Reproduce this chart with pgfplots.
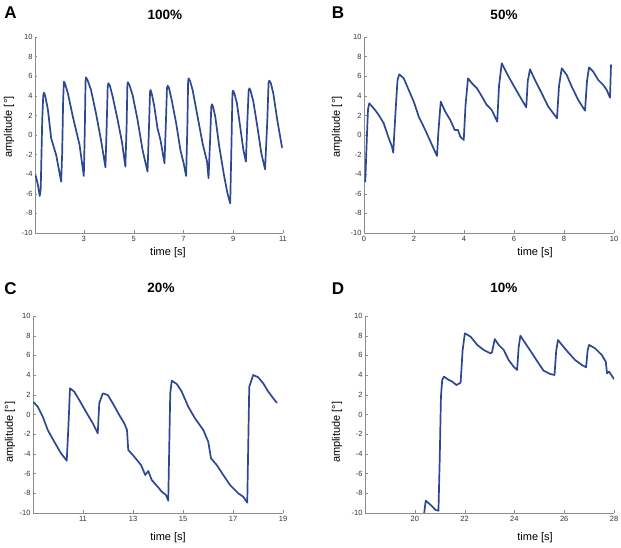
\documentclass[border=0pt]{standalone}
\usepackage{pgfplots}
\pgfplotsset{compat=1.18}
\usepackage{fontspec}
\setmainfont{Liberation Sans}
\definecolor{blueline}{RGB}{44,72,146}
\definecolor{axgray}{RGB}{140,140,140}
\pgfplotsset{every axis title shift=0pt,
 trace/.style={blueline, line width=1.7pt, line join=round, line cap=round, no markers},
 panel/.style={
  scale only axis, anchor=south west,
  axis x line*=bottom, axis y line*=left,
  axis line style={draw=axgray,-},
  tick style={draw=axgray}, tick align=inside, major tick length=2.5pt,
  ymin=-10, ymax=10, ytick={-10,-8,...,10},
  /pgf/number format/assume math mode=true,
  tick label style={font=\fontsize{7.5}{8}\selectfont, text=black!80},
  yticklabel style={xshift=1pt},
  label style={font=\fontsize{11}{12}\selectfont},
  title style={font=\fontsize{13.5}{14}\selectfont\bfseries, anchor=center},
  xlabel={time [s]}, ylabel={amplitude [°]},
}}
\begin{document}
\begin{tikzpicture}
\useasboundingbox (0pt,0pt) rectangle (621pt,548pt);
% Panel A
\begin{axis}[panel, at={(35pt,315pt)}, width=248pt, height=196pt,
  xmin=1.04, xmax=11, xtick={3,5,7,9,11},
  title={100\%}, title style={at={(axis description cs:0.524,1.112)}},
  xlabel style={at={(axis description cs:0.536,-0.102)}, anchor=center},
  ylabel style={at={(axis description cs:-0.105,0.54)}, anchor=center}]
\addplot[trace] coordinates {
(1.07,-4.18)(1.15,-5.0)(1.23,-6.22)(1.27,-5.5)(1.33,1.5)(1.37,4.0)(1.40,4.32)(1.45,4.0)(1.56,2.55)(1.69,-0.34)(1.89,-2.04)(2.09,-4.76)
(2.13,-2.0)(2.17,3.5)(2.20,5.44)(2.25,5.2)(2.36,4.26)(2.56,1.87)(2.83,-1.02)(3.00,-4.18)
(3.04,0.5)(3.07,5.5)(3.09,5.88)(3.15,5.6)(3.29,4.59)(3.49,2.21)(3.69,-0.51)(3.87,-3.30)
(3.92,1.0)(3.96,5.0)(3.99,5.28)(4.05,5.0)(4.16,3.91)(4.36,1.53)(4.53,-0.68)(4.67,-3.23)
(4.72,1.0)(4.75,5.1)(4.77,5.38)(4.83,5.1)(4.96,4.08)(5.16,1.53)(5.36,-1.53)(5.56,-3.74)
(5.62,1.0)(5.66,4.4)(5.68,4.59)(5.73,4.2)(5.83,2.95)(5.96,0.68)(6.08,-0.51)(6.24,-2.89)
(6.30,1.5)(6.34,4.8)(6.37,5.03)(6.42,4.8)(6.53,3.57)(6.71,1.19)(6.88,-1.53)(7.01,-2.89)(7.11,-4.18)
(7.16,1.0)(7.19,5.5)(7.21,5.78)(7.27,5.5)(7.37,4.59)(7.57,1.87)(7.77,-0.85)(7.95,-2.72)(8.01,-4.42)
(8.08,0.0)(8.12,2.9)(8.15,3.13)(8.19,2.9)(8.28,1.87)(8.44,-1.19)(8.64,-4.25)(8.77,-5.95)(8.88,-6.97)
(8.93,-1.0)(8.97,4.3)(8.99,4.52)(9.04,4.3)(9.15,3.23)(9.28,0.85)(9.41,-1.53)(9.51,-2.72)
(9.57,1.5)(9.62,4.5)(9.65,4.76)(9.70,4.5)(9.81,3.40)(9.97,0.85)(10.13,-1.87)(10.28,-3.50)
(10.37,1.5)(10.42,5.3)(10.45,5.54)(10.51,5.3)(10.61,4.25)(10.77,1.53)(10.96,-1.26)
};
\end{axis}
% Panel B
\begin{axis}[panel, at={(364pt,315pt)}, width=250pt, height=196pt,
  xmin=0, xmax=10, xtick={0,2,...,10},
  title={50\%}, title style={at={(axis description cs:0.56,1.112)}},
  xlabel style={at={(axis description cs:0.684,-0.102)}, anchor=center},
  ylabel style={at={(axis description cs:-0.108,0.54)}, anchor=center}]
\addplot[trace] coordinates {
(0.05,-4.76)(0.09,-2.0)(0.12,0.17)(0.16,2.6)(0.21,3.23)(0.39,2.72)(0.59,2.04)(0.79,1.19)(0.99,-0.34)(1.12,-1.19)(1.17,-1.80)
(1.23,1.0)(1.29,3.57)(1.34,5.6)(1.41,6.19)(1.59,5.78)(1.79,4.59)(1.99,3.40)(2.19,1.87)(2.45,0.51)(2.72,-1.02)(2.92,-2.14)
(2.98,0.5)(3.07,3.40)(3.25,2.38)(3.45,1.53)(3.63,0.51)(3.76,0.51)(3.85,-0.17)(3.99,-0.51)
(4.06,3.0)(4.16,5.78)(4.32,5.27)(4.52,4.76)(4.72,3.91)(4.90,3.1)(5.11,2.55)(5.33,1.36)
(5.40,5.0)(5.51,7.32)(5.71,6.30)(5.97,5.10)(6.24,3.91)(6.49,2.82)
(6.55,5.5)(6.64,6.70)(6.84,5.61)(7.11,4.25)(7.37,2.89)(7.72,1.70)
(7.80,5.0)(7.91,6.81)(8.11,6.12)(8.31,4.93)(8.57,3.57)(8.84,2.48)
(8.92,5.5)(9.00,6.90)(9.17,6.46)(9.37,5.61)(9.57,5.10)(9.71,4.59)(9.84,3.81)(9.88,7.14)
};
\end{axis}
% Panel C
\begin{axis}[panel, at={(33pt,35pt)}, width=250pt, height=197pt,
  xmin=9, xmax=19, xtick={11,13,...,19},
  title={20\%}, title style={at={(axis description cs:0.512,1.142)}},
  xlabel style={at={(axis description cs:0.54,-0.127)}, anchor=center},
  ylabel style={at={(axis description cs:-0.092,0.41)}, anchor=center}]
\addplot[trace] coordinates {
(9.03,1.24)(9.19,0.79)(9.39,-0.22)(9.59,-1.57)(9.85,-2.76)(10.12,-3.94)(10.35,-4.69)
(10.42,-1.0)(10.48,2.66)(10.65,2.32)(10.85,1.47)(11.12,0.28)(11.39,-0.89)(11.59,-1.91)
(11.65,1.14)(11.79,2.15)(11.99,1.98)(12.19,1.14)(12.45,-0.05)(12.65,-0.89)(12.76,-1.57)
(12.81,-3.60)(13.05,-4.28)(13.32,-5.13)(13.49,-6.14)(13.61,-5.74)(13.75,-6.65)(14.04,-7.49)
(14.15,-7.84)(14.32,-8.17)(14.41,-8.75)(14.49,2.15)(14.55,3.43)(14.75,3.10)(14.95,2.32)
(15.21,0.79)(15.48,-0.39)(15.81,-1.57)(16.01,-2.76)(16.12,-4.45)(16.35,-5.13)(16.61,-6.14)
(16.88,-7.16)(17.21,-8.0)(17.41,-8.35)(17.57,-8.95)(17.65,2.82)(17.81,4.01)(18.01,3.77)
(18.21,3.16)(18.41,2.32)(18.61,1.64)(18.75,1.20)
};
\end{axis}
% Panel D
\begin{axis}[panel, at={(365pt,35pt)}, width=249pt, height=197pt,
  xmin=18, xmax=28, xtick={20,22,...,28},
  title={10\%}, title style={at={(axis description cs:0.558,1.142)}},
  xlabel style={at={(axis description cs:0.683,-0.127)}, anchor=center},
  ylabel style={at={(axis description cs:-0.112,0.41)}, anchor=center}]
\addplot[trace] coordinates {
(20.36,-10.5)(20.40,-9.5)(20.44,-8.75)(20.64,-9.19)(20.84,-9.70)(20.95,-9.77)
(21.0,-4.62)(21.05,1.81)(21.10,3.5)(21.17,3.84)(21.37,3.50)(21.51,3.33)(21.67,2.99)(21.84,3.23)
(21.92,6.5)(22.01,8.24)(22.24,7.90)(22.51,7.06)(22.77,6.55)(23.04,6.21)(23.10,6.3)
(23.21,7.66)(23.37,7.06)(23.57,6.55)(23.77,5.53)(23.97,4.85)(24.11,4.52)
(24.17,6.8)(24.24,8.0)(24.44,7.23)(24.71,6.21)(24.97,5.2)(25.17,4.45)(25.44,4.11)(25.61,4.01)
(25.68,6.5)(25.75,7.56)(25.97,6.88)(26.17,6.28)(26.44,5.53)(26.71,5.03)(26.88,4.79)
(26.94,6.5)(27.0,7.06)(27.24,6.72)(27.51,6.04)(27.67,5.36)(27.72,4.18)(27.80,4.35)(28.0,3.60)
};
\end{axis}
% panel letters
\node[font=\fontsize{17}{18}\selectfont\bfseries] at (10.5pt,535pt) {A};
\node[font=\fontsize{17}{18}\selectfont\bfseries] at (338pt,535pt) {B};
\node[font=\fontsize{17}{18}\selectfont\bfseries] at (10.5pt,259pt) {C};
\node[font=\fontsize{17}{18}\selectfont\bfseries] at (338pt,259pt) {D};
\end{tikzpicture}
\end{document}
